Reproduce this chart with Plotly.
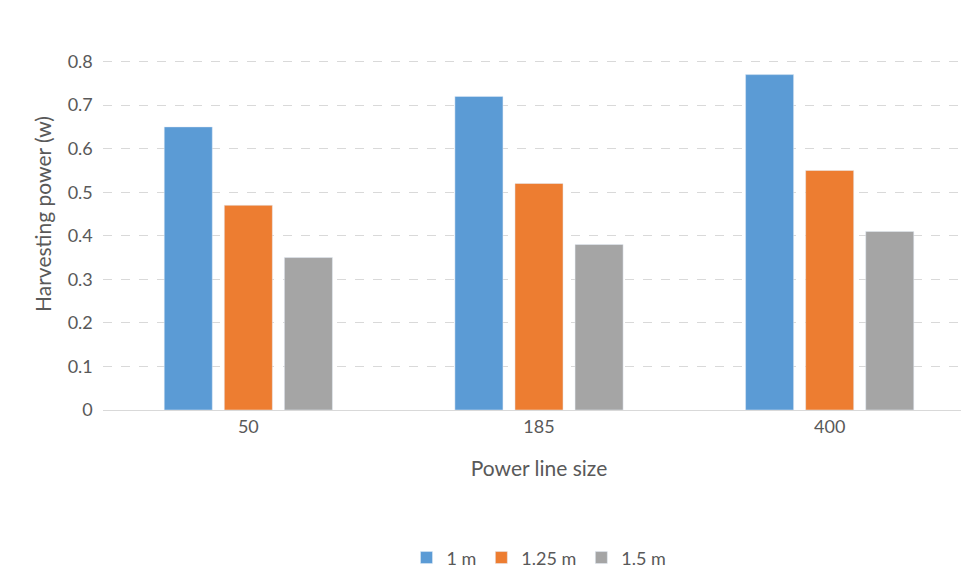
import plotly.graph_objects as go

categories = ["50", "185", "400"]
series_names = ["1 m", "1.25 m", "1.5 m"]
v_1m = [0.65, 0.72, 0.77]
v_125m = [0.47, 0.52, 0.55]
v_15m = [0.35, 0.38, 0.41]
colors = ["#5B9BD5", "#ED7D31", "#A5A5A5"]

fig = go.Figure()
for name, vals, c in zip(series_names, [v_1m, v_125m, v_15m], colors):
    fig.add_trace(go.Bar(x=categories, y=vals, name=name, marker_color=c))

font = dict(family="Lato, Open Sans, sans-serif", color="#595959", size=18)
fig.update_layout(
    width=969, height=570, barmode="group", bargap=0.38, bargroupgap=0.2,
    plot_bgcolor="white", paper_bgcolor="white", font=font,
    margin=dict(l=95, r=2, t=10, b=162),
    xaxis=dict(type="category", title=dict(text="Power line size", font=dict(size=21), standoff=25),
               showline=True, linecolor="#D9D9D9", ticks="", tickfont=dict(size=18)),
    yaxis=dict(range=[0, 0.9], dtick=0.1, tickformat="~g", showgrid=True, gridcolor="#D9D9D9",
               griddash="dash", zeroline=False, ticks="", ticksuffix="  ",
               title=dict(text="Harvesting power (w)", font=dict(size=21), standoff=10)),
    legend=dict(orientation="h", x=0.5, xanchor="center", y=-0.33, yanchor="top",
                font=dict(size=18), itemwidth=30),
)
fig.write_html("out.html")
